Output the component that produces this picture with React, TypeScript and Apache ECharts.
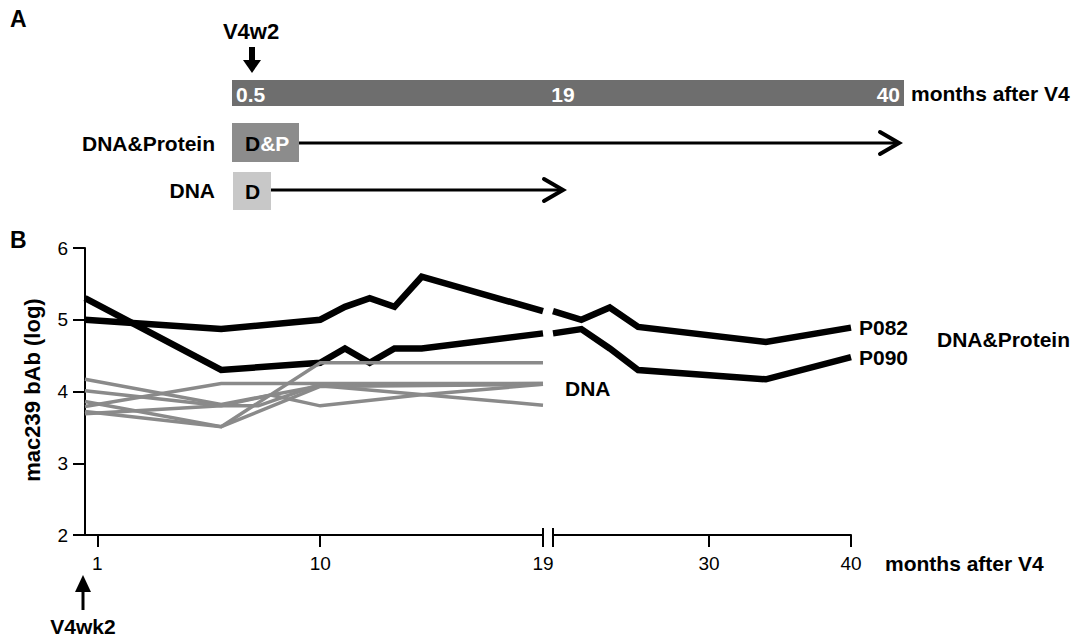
import React, { useEffect, useRef } from "react";
import * as echarts from "echarts";

// ---------- data (panel B) ----------
const leftTicks = [1, 10, 19];
const rightTicks = [30, 40];
const yTicks = [2, 3, 4, 5, 6];

// DNA&Protein animals, left (0.5–19 months) and right (19–40 months) segments
const p082Left = [[0.5, 5.0], [6, 4.87], [10, 5.0], [11, 5.18], [12, 5.3], [13, 5.18], [14.1, 5.6], [19, 5.12]];
const p082Right = [[19, 5.12], [21, 5.0], [23, 5.17], [25, 4.9], [34, 4.69], [40, 4.89]];
const p090Left = [[0.5, 5.3], [6, 4.3], [10, 4.4], [11, 4.6], [12, 4.4], [13, 4.6], [14.1, 4.6], [19, 4.81]];
const p090Right = [[19, 4.81], [21, 4.87], [23, 4.6], [25, 4.3], [34, 4.17], [40, 4.48]];

// DNA-only animals (to 19 months)
const dna1 = [[0.5, 4.17], [6, 3.82], [10, 4.08], [19, 3.81]];
const dna2 = [[0.5, 4.01], [6, 3.8], [7.5, 3.8], [10, 4.1], [19, 4.11]];
const dna3 = [[0.5, 3.86], [6, 3.51], [10, 4.4], [19, 4.4]];
const dna4 = [[0.5, 3.79], [6, 4.11], [19, 4.11]];
const dna5 = [[0.5, 3.72], [6, 3.51], [10, 4.07], [19, 4.1]];
const dna6 = [[0.5, 3.69], [6, 3.8], [8, 3.95], [10, 3.8], [14, 3.95], [19, 4.1]];
const dnaSeries = [dna1, dna2, dna3, dna4, dna5, dna6];

// ---------- panel A labels ----------
const timelineLabels = ["0.5", "19", "40"];
const groupNames = ["DNA&Protein", "DNA"];

const FONT = "'Liberation Sans', Arial, Helvetica, sans-serif";
const BLACK = "#000000";
const GRAY = "#8a8a8a";

function txt(text: string, x: number, y: number, opts: any = {}) {
  return {
    type: "text",
    x,
    y,
    rotation: opts.rotation || 0,
    style: {
      text,
      fontSize: opts.fontSize || 21,
      fontWeight: opts.fontWeight || "bold",
      fontFamily: FONT,
      fill: opts.fill || BLACK,
      align: opts.align || "left",
      verticalAlign: "middle",
      rich: opts.rich,
    },
    z: 10,
  };
}

export default function App() {
  const ref = useRef<HTMLDivElement>(null);

  useEffect(() => {
    if (!ref.current) return;
    const chart = echarts.init(ref.current, null, { renderer: "svg" });

    const gridTop = 248;
    const gridH = 287;

    const lineSeries = (name: string, data: number[][], idx: number, color: string, width: number, z: number, endLabel?: string) => ({
      name,
      type: "line",
      xAxisIndex: idx,
      yAxisIndex: idx,
      data,
      showSymbol: false,
      symbol: "none",
      clip: true,
      z,
      lineStyle: { color, width, cap: "butt", join: "miter" },
      endLabel: endLabel
        ? {
            show: true,
            formatter: endLabel,
            fontSize: 21,
            fontWeight: "bold",
            fontFamily: FONT,
            color: BLACK,
            distance: 8,
          }
        : { show: false },
    });

    const axisLabelStyle = { fontSize: 19, fontFamily: FONT, color: BLACK };

    const option: any = {
      animation: false,
      backgroundColor: "#ffffff",
      grid: [
        { left: 85, top: gridTop, width: 458, height: gridH },
        { left: 553, top: gridTop, width: 298, height: gridH },
      ],
      xAxis: [
        {
          type: "value",
          gridIndex: 0,
          min: 0.5,
          max: 19,
          splitLine: { show: false },
          axisLine: { lineStyle: { color: BLACK, width: 2 } },
          axisTick: { customValues: [1, 10], length: 12, lineStyle: { color: BLACK, width: 2 } },
          axisLabel: { ...axisLabelStyle, customValues: leftTicks, margin: 19, formatter: (v: number) => String(v) },
        },
        {
          type: "value",
          gridIndex: 1,
          min: 19,
          max: 40,
          splitLine: { show: false },
          axisLine: { lineStyle: { color: BLACK, width: 2 } },
          axisTick: { customValues: rightTicks, length: 12, lineStyle: { color: BLACK, width: 2 } },
          axisLabel: { ...axisLabelStyle, customValues: rightTicks, margin: 19, formatter: (v: number) => String(v) },
        },
      ],
      yAxis: [
        {
          type: "value",
          gridIndex: 0,
          min: 2,
          max: 6,
          interval: 1,
          splitLine: { show: false },
          axisLine: { show: true, lineStyle: { color: BLACK, width: 2 } },
          axisTick: { show: true, length: 12, lineStyle: { color: BLACK, width: 2 } },
          axisLabel: { ...axisLabelStyle, margin: 17, customValues: yTicks },
        },
        {
          type: "value",
          gridIndex: 1,
          min: 2,
          max: 6,
          show: false,
          splitLine: { show: false },
        },
      ],
      series: [
        lineSeries("P082 a", p082Left, 0, BLACK, 6.5, 2),
        lineSeries("P090 a", p090Left, 0, BLACK, 6.5, 2),
        lineSeries("P082", p082Right, 1, BLACK, 6.5, 2, "P082"),
        lineSeries("P090", p090Right, 1, BLACK, 6.5, 2, "P090"),
        ...dnaSeries.map((d, i) => lineSeries("DNA " + (i + 1), d, 0, GRAY, 3.5, 3)),
      ],
      graphic: [
        // ----- panel A -----
        txt("A", 10, 19, { fontSize: 23 }),
        txt("V4w2", 251, 31, { align: "center", fontSize: 22 }),
        { type: "rect", shape: { x: 249, y: 47, width: 6, height: 15 }, style: { fill: BLACK } },
        { type: "polygon", shape: { points: [[243, 60], [261, 60], [252, 73]] }, style: { fill: BLACK } },
        { type: "rect", shape: { x: 232, y: 80, width: 672, height: 26 }, style: { fill: "#6e6e6e" } },
        txt(timelineLabels[0], 236, 94, { fill: "#ffffff", fontSize: 21 }),
        txt(timelineLabels[1], 563, 94, { fill: "#ffffff", fontSize: 21, align: "center" }),
        txt(timelineLabels[2], 900, 94, { fill: "#ffffff", fontSize: 21, align: "right" }),
        txt("months after V4", 911, 93, { fontSize: 21 }),
        // DNA&Protein row
        txt(groupNames[0], 215, 143, { align: "right", fontSize: 21 }),
        { type: "rect", shape: { x: 232, y: 123, width: 67, height: 39 }, style: { fill: "#8c8c8c" } },
        txt("{d|D}{p|&P}", 245, 143, {
          fontSize: 21,
          rich: {
            d: { fill: BLACK, fontSize: 21, fontWeight: "bold", fontFamily: FONT },
            p: { fill: "#ffffff", fontSize: 21, fontWeight: "bold", fontFamily: FONT },
          },
        }),
        { type: "line", shape: { x1: 299, y1: 143, x2: 897, y2: 143 }, style: { stroke: BLACK, lineWidth: 3 } },
        { type: "polyline", shape: { points: [[880, 132], [899, 143], [880, 154]] }, style: { stroke: BLACK, lineWidth: 4, fill: null, lineCap: "round", lineJoin: "miter" } },
        // DNA row
        txt(groupNames[1], 215, 190, { align: "right", fontSize: 21 }),
        { type: "rect", shape: { x: 233, y: 172, width: 38, height: 38 }, style: { fill: "#c8c8c8" } },
        txt("D", 245, 191, { fontSize: 21 }),
        { type: "line", shape: { x1: 271, y1: 190, x2: 561, y2: 190 }, style: { stroke: BLACK, lineWidth: 3 } },
        { type: "polyline", shape: { points: [[544, 179], [563, 190], [544, 201]] }, style: { stroke: BLACK, lineWidth: 4, fill: null, lineCap: "round", lineJoin: "miter" } },
        // ----- panel B -----
        txt("B", 10, 240, { fontSize: 23 }),
        txt("mac239 bAb (log)", 32, 390, { align: "center", fontSize: 22, rotation: Math.PI / 2 }),
        // axis break marks
        { type: "line", shape: { x1: 543, y1: 528, x2: 543, y2: 547 }, style: { stroke: BLACK, lineWidth: 2 }, z: 5 },
        { type: "line", shape: { x1: 553, y1: 528, x2: 553, y2: 547 }, style: { stroke: BLACK, lineWidth: 2 }, z: 5 },
        { type: "rect", shape: { x: 544.5, y: 530, width: 7, height: 10 }, style: { fill: "#ffffff" }, z: 4 },
        txt("months after V4", 885, 563, { fontSize: 21 }),
        txt("DNA&Protein", 937, 339, { fontSize: 21 }),
        txt("DNA", 565, 388, { fontSize: 21 }),
        // V4wk2 arrow
        { type: "polygon", shape: { points: [[83, 575], [75, 592], [91, 592]] }, style: { fill: BLACK } },
        { type: "line", shape: { x1: 83, y1: 591, x2: 83, y2: 610 }, style: { stroke: BLACK, lineWidth: 3 } },
        txt("V4wk2", 83, 626, { align: "center", fontSize: 21 }),
      ],
    };

    chart.setOption(option);
    return () => chart.dispose();
  }, []);

  return (
    <div
      ref={ref}
      style={{ position: "fixed", left: 0, top: 0, width: 1075, height: 636, background: "#fff" }}
    />
  );
}
